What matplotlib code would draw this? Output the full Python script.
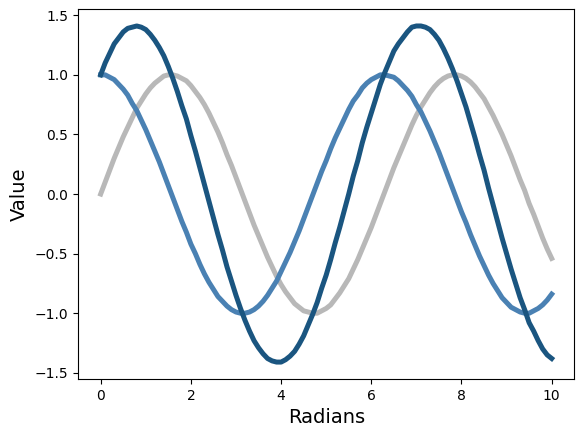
import numpy as np
import matplotlib.pyplot as plt

# x positions (radians), every 0.1
x = np.arange(0, 10.001, 0.1)

# values
sin_vals = [0.00, 0.10, 0.20, 0.30, 0.39, 0.48, 0.56, 0.64, 0.72, 0.78,
            0.84, 0.89, 0.93, 0.96, 0.99, 1.00, 1.00, 0.99, 0.97, 0.95,
            0.91, 0.86, 0.81, 0.75, 0.68, 0.60, 0.52, 0.43, 0.33, 0.24,
            0.14, 0.04, -0.06, -0.16, -0.26, -0.35, -0.44, -0.53, -0.61, -0.69,
            -0.76, -0.82, -0.87, -0.92, -0.95, -0.98, -0.99, -1.00, -1.00, -0.98,
            -0.96, -0.93, -0.88, -0.83, -0.77, -0.71, -0.63, -0.55, -0.46, -0.37,
            -0.28, -0.18, -0.08, 0.02, 0.12, 0.22, 0.31, 0.40, 0.49, 0.58,
            0.66, 0.73, 0.79, 0.85, 0.90, 0.94, 0.97, 0.99, 1.00, 1.00,
            0.99, 0.97, 0.94, 0.90, 0.85, 0.80, 0.73, 0.66, 0.58, 0.50,
            0.41, 0.32, 0.22, 0.12, 0.03, -0.08, -0.17, -0.27, -0.37, -0.46,
            -0.54]
cos_vals = [1.00, 1.00, 0.98, 0.96, 0.92, 0.88, 0.83, 0.76, 0.70, 0.62,
            0.54, 0.45, 0.36, 0.27, 0.17, 0.07, -0.03, -0.13, -0.23, -0.32,
            -0.42, -0.50, -0.59, -0.67, -0.74, -0.80, -0.86, -0.90, -0.94, -0.97,
            -0.99, -1.00, -1.00, -0.99, -0.97, -0.94, -0.90, -0.85, -0.79, -0.73,
            -0.65, -0.57, -0.49, -0.40, -0.31, -0.21, -0.11, -0.01, 0.09, 0.19,
            0.28, 0.38, 0.47, 0.55, 0.63, 0.71, 0.78, 0.83, 0.89, 0.93,
            0.96, 0.98, 1.00, 1.00, 0.99, 0.98, 0.95, 0.91, 0.87, 0.82,
            0.75, 0.69, 0.61, 0.53, 0.44, 0.35, 0.25, 0.15, 0.05, -0.05,
            -0.15, -0.24, -0.34, -0.43, -0.52, -0.60, -0.68, -0.75, -0.81, -0.87,
            -0.91, -0.95, -0.97, -0.99, -1.00, -1.00, -0.98, -0.96, -0.93, -0.89,
            -0.84]
sum_vals = [1.00, 1.10, 1.18, 1.26, 1.31, 1.36, 1.39, 1.40, 1.41, 1.40,
            1.38, 1.34, 1.29, 1.23, 1.16, 1.07, 0.97, 0.86, 0.74, 0.63,
            0.49, 0.36, 0.22, 0.08, -0.06, -0.20, -0.34, -0.47, -0.61, -0.73,
            -0.85, -0.96, -1.06, -1.15, -1.23, -1.29, -1.34, -1.38, -1.40, -1.41,
            -1.41, -1.39, -1.36, -1.32, -1.26, -1.19, -1.10, -1.01, -0.91, -0.79,
            -0.68, -0.55, -0.41, -0.28, -0.14, 0.00, 0.15, 0.28, 0.43, 0.56,
            0.68, 0.80, 0.92, 1.02, 1.11, 1.20, 1.26, 1.31, 1.36, 1.40,
            1.41, 1.41, 1.40, 1.38, 1.34, 1.29, 1.22, 1.14, 1.05, 0.95,
            0.84, 0.73, 0.60, 0.47, 0.33, 0.20, 0.05, -0.09, -0.23, -0.37,
            -0.50, -0.63, -0.75, -0.87, -0.97, -1.08, -1.15, -1.23, -1.30, -1.35,
            -1.38]

fig = plt.figure(figsize=(5.83, 4.37), dpi=100)
ax = fig.add_axes([0.134, 0.133, 0.851, 0.846])

ax.plot(x, sin_vals, color='#b8b8b8', linewidth=3.6)
ax.plot(x, cos_vals, color='#4a81b3', linewidth=3.6)
ax.plot(x, sum_vals, color='#1a5580', linewidth=3.6)

ax.set_xlabel('Radians', fontsize=14)
ax.set_ylabel('Value', fontsize=14)

fig.savefig('out.png', dpi=100)
